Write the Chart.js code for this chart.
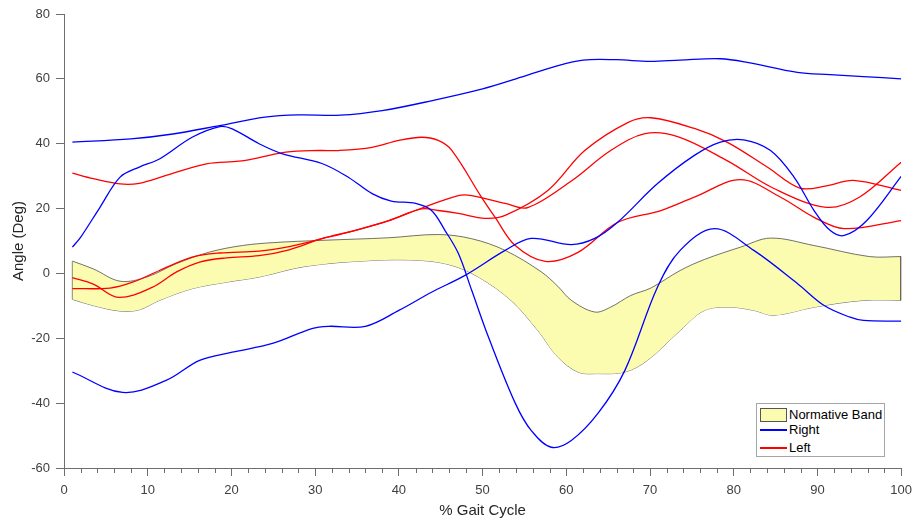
<!DOCTYPE html>
<html>
<head>
<meta charset="utf-8">
<script src="https://cdn.jsdelivr.net/npm/chart.js@4.4.1/dist/chart.umd.min.js"></script>
<style>
  html, body { margin: 0; padding: 0; background: #fff; }
  #wrap { position: relative; width: 919px; height: 523px; }
  #legend {
    position: absolute; left: 756px; top: 403px; width: 127px; height: 52px;
    border: 1px solid #a6a6a6; background: #fff;
    font: 13px 'Liberation Sans', Arial, sans-serif; color: #000;
  }
  #legend div { position: absolute; }
  #legend .txt { left: 32px; height: 16px; line-height: 16px; white-space: nowrap; }
</style>
</head>
<body>
<div id="wrap">
  <canvas id="gait"></canvas>
  <div id="legend">
    <div style="left:3px;top:4px;width:25px;height:12px;background:#fcfcb0;border:1px solid #555"></div>
    <div class="txt" style="top:3px">Normative Band</div>
    <div style="left:3px;top:25px;width:27px;height:2px;background:#0000ff"></div>
    <div class="txt" style="top:18px">Right</div>
    <div style="left:3px;top:43px;width:27px;height:2px;background:#ff0000"></div>
    <div class="txt" style="top:36px">Left</div>
  </div>
</div>
<script>
// ── Data (% gait cycle vs degrees) ──
const right1X = [1, 8, 13, 18.6, 24, 28, 33, 38, 44, 50, 54, 59, 62, 66, 70, 73.6, 78.4, 81.6, 87.6, 91.5, 95.5, 100];
const right1Y = [40.5, 41.5, 43, 45.6, 48.2, 48.9, 48.8, 50.2, 53.3, 56.9, 60, 64.1, 65.8, 65.9, 65.4, 65.8, 66.2, 65.1, 62, 61.3, 60.7, 60];

const right2X = [1, 2, 4.3, 6.7, 9, 11.4, 15.3, 18.6, 20.1, 23.3, 26.1, 30.8, 34, 36.8, 39.1, 42, 43.9, 45.5, 47.1, 48.7, 50.7, 53.9, 55.8, 58.2, 60.6, 63.8, 67, 70.9, 73.6, 77.7, 82.4, 87.6, 90.8, 93.9, 95.5, 100];
const right2Y = [8.1, 11.2, 20.4, 29.7, 32.8, 35.3, 42, 45.3, 44.6, 40, 36.9, 33.9, 29.6, 24.6, 22.3, 21.6, 19.4, 13.3, 6.2, -5.2, -19.6, -40, -48.4, -53.6, -51.5, -43.1, -29.9, -4.2, 7.1, 13.8, 7.1, -3.1, -9.9, -13.5, -14.5, -14.7];

const right3X = [1, 7, 12.2, 16.2, 20.1, 24.9, 29.6, 31.6, 36, 40, 43.9, 47.9, 52.7, 55.8, 60.6, 63.4, 66.1, 70.9, 75.3, 78.4, 81.2, 84.4, 87.2, 89.6, 91.5, 93.2, 95.9, 100];
const right3Y = [-30.4, -36.7, -33, -26.8, -24.3, -21.6, -17, -16.3, -16.3, -11.4, -5.8, -0.6, 7.1, 10.8, 8.9, 10.8, 15.7, 27.7, 36.4, 40.5, 41.2, 37.9, 29.7, 19.4, 13.3, 11.7, 16.3, 29.9];

const left1X = [1, 3.5, 6.7, 9, 12.2, 17, 20.9, 23.3, 26.5, 30.5, 32.8, 36.8, 40, 42.7, 44.7, 46.3, 49.9, 51.5, 53.9, 57.5, 61.4, 66.1, 71.3, 75.3, 80.8, 85.6, 89.6, 93.2, 100];
const left1Y = [30.9, 29.2, 27.6, 27.8, 30.2, 33.8, 34.6, 35.7, 37.4, 37.9, 37.9, 38.9, 41, 42, 41, 38, 23.4, 17.3, 8.6, 3.7, 6.5, 15.7, 19.4, 23.5, 28.9, 23.5, 17.3, 13.8, 16.3];

const left2X = [1, 3.5, 6.5, 10.6, 13.4, 16.2, 19.4, 23.3, 26.9, 30.8, 34.8, 38.8, 42.7, 44.7, 47.1, 50.3, 52.7, 57.8, 62.2, 67.4, 70.1, 75.3, 79.2, 84, 87.9, 91.1, 94.3, 100];
const left2Y = [-1.3, -3.3, -7.4, -4.2, 0.4, 3.5, 4.8, 5.5, 7.3, 10.7, 13.3, 16.3, 19.9, 19.4, 18.5, 17, 17.9, 25.6, 37.9, 46.6, 48, 44.7, 40.5, 32.8, 26.3, 27, 28.7, 25.6];

const left3X = [1, 5.5, 8.2, 11.4, 15.3, 18.6, 23.3, 26.9, 30.8, 34.8, 38.8, 42.7, 47.1, 48.7, 52.7, 55.4, 60.6, 65.3, 69.4, 73.3, 79.2, 84.8, 91.1, 95, 100];
const left3Y = [-4.7, -4.5, -2.7, 0.9, 5, 6.3, 6.9, 8.3, 10.7, 13.3, 16.3, 20.1, 24, 24, 21.6, 20.3, 28.5, 37.9, 43.1, 42.2, 34.8, 26.2, 20.4, 23.5, 34.3];

const bandUpperX = [1, 3.5, 6.7, 9.9, 13.4, 17.4, 21.3, 25, 30.8, 38.8, 44.7, 48.7, 52.7, 57, 59, 60.6, 63.4, 65.3, 67.7, 70.1, 73.6, 76.5, 80.8, 84.4, 89.6, 96.2, 100];
const bandUpperY = [3.8, 1.4, -2.4, -1.1, 3, 6.6, 8.6, 9.5, 10.2, 11, 12, 10.7, 7.1, 0.5, -4, -8.3, -11.9, -10.4, -6.8, -4.5, 0.9, 4.3, 8.1, 10.9, 8.6, 5.2, 5.2];

const bandLowerX = [1, 3.5, 6.7, 9, 11.4, 15.3, 19.4, 23.3, 28.9, 36.8, 42.7, 46.3, 49.5, 53.4, 56.6, 59, 61.4, 63.8, 67, 69.7, 73.6, 76.5, 79.6, 82.4, 84.8, 89.6, 95.5, 100];
const bandLowerY = [-8, -9.9, -11.6, -11.2, -8.3, -4.7, -2.7, -1.1, 2.2, 4, 4, 2.5, -1.1, -8.3, -17.6, -25.8, -30.4, -30.9, -30.4, -26.8, -17.6, -11.4, -10.4, -11.4, -12.9, -10.4, -8.3, -8.3];

const xTicks = { min: 0, max: 100, step: 10 };
const yTicks = { min: -60, max: 80, step: 20 };

// ── Styles ──
const fontFamily = "'Liberation Sans', Arial, sans-serif";
const axisColor  = '#6e6e6e';
const labelColor = '#404040';
const blue = '#0000ff';
const red  = '#ff0000';
const bandFill = '#fcfcb0';
const bandEdge = 'rgba(70,70,70,0.85)';
const smooth = 0.35;

const pts = (xs, ys) => xs.map((x, i) => ({ x, y: ys[i] }));

const curve = (xs, ys, color) => ({
  data: pts(xs, ys),
  borderColor: color,
  borderWidth: 1.3,
  pointRadius: 0,
  tension: smooth,
  fill: false,
  order: 1,
});

const n = bandUpperX.length - 1, m = bandLowerX.length - 1;

const datasets = [
  curve(right1X, right1Y, blue),
  curve(right2X, right2Y, blue),
  curve(right3X, right3Y, blue),
  curve(left1X, left1Y, red),
  curve(left2X, left2Y, red),
  curve(left3X, left3Y, red),
  {
    data: pts(bandUpperX, bandUpperY),
    borderColor: bandEdge, borderWidth: 0.9, pointRadius: 0, tension: smooth,
    fill: { target: '+1' }, backgroundColor: bandFill, order: 5,
  },
  {
    data: pts(bandLowerX, bandLowerY),
    borderColor: bandEdge, borderWidth: 0.9, pointRadius: 0, tension: smooth,
    fill: false, order: 5,
  },
  {   // closing edge at the end of the band
    data: [{ x: bandUpperX[n], y: bandUpperY[n] }, { x: bandLowerX[m], y: bandLowerY[m] }],
    borderColor: '#333', borderWidth: 1, pointRadius: 0, tension: 0, fill: false, order: 4,
  },
  {   // faint edge at the start
    data: [{ x: bandUpperX[0], y: bandUpperY[0] }, { x: bandLowerX[0], y: bandLowerY[0] }],
    borderColor: 'rgba(150,150,120,0.6)', borderWidth: 1, pointRadius: 0, tension: 0, fill: false, order: 4,
  },
];

// minor ticks every 2 % on the x axis
const minorTicks = {
  id: 'minorTicks',
  afterDraw(chart) {
    const sx = chart.scales.x, ctx = chart.ctx;
    ctx.save();
    ctx.strokeStyle = axisColor;
    ctx.lineWidth = 1;
    for (let v = sx.min; v <= sx.max; v += 2) {
      if (v % xTicks.step === 0) continue;
      const px = Math.round(sx.getPixelForValue(v)) + 0.5;
      ctx.beginPath();
      ctx.moveTo(px, sx.top);
      ctx.lineTo(px, sx.top + 5);
      ctx.stroke();
    }
    ctx.restore();
  },
};

new Chart(document.getElementById('gait'), {
  type: 'line',
  data: { datasets },
  plugins: [minorTicks],
  options: {
    responsive: true,
    maintainAspectRatio: false,
    animation: false,
    layout: { padding: { top: 14, right: 14.5, left: 0, bottom: 0 } },
    plugins: { legend: { display: false }, tooltip: { enabled: false } },
    scales: {
      x: {
        type: 'linear',
        min: xTicks.min, max: xTicks.max,
        afterFit: s => { s.height = 55; },
        ticks: { stepSize: xTicks.step, color: labelColor, padding: 7, font: { family: fontFamily, size: 13 } },
        grid: { drawOnChartArea: false, tickLength: 8, color: axisColor },
        border: { color: axisColor, width: 1 },
        title: {
          display: true, text: '% Gait Cycle', color: '#262626',
          font: { family: fontFamily, size: 15 }, padding: { top: 0, bottom: 3 },
        },
      },
      y: {
        type: 'linear',
        min: yTicks.min, max: yTicks.max,
        afterFit: s => { s.width = 64; },
        ticks: { stepSize: yTicks.step, color: labelColor, padding: 6, font: { family: fontFamily, size: 13 } },
        grid: { drawOnChartArea: false, tickLength: 8, color: axisColor },
        border: { color: axisColor, width: 1 },
        title: {
          display: true, text: 'Angle (Deg)', color: '#262626',
          font: { family: fontFamily, size: 15 }, padding: { top: 10, bottom: 0 },
        },
      },
    },
  },
});
</script>
</body>
</html>
